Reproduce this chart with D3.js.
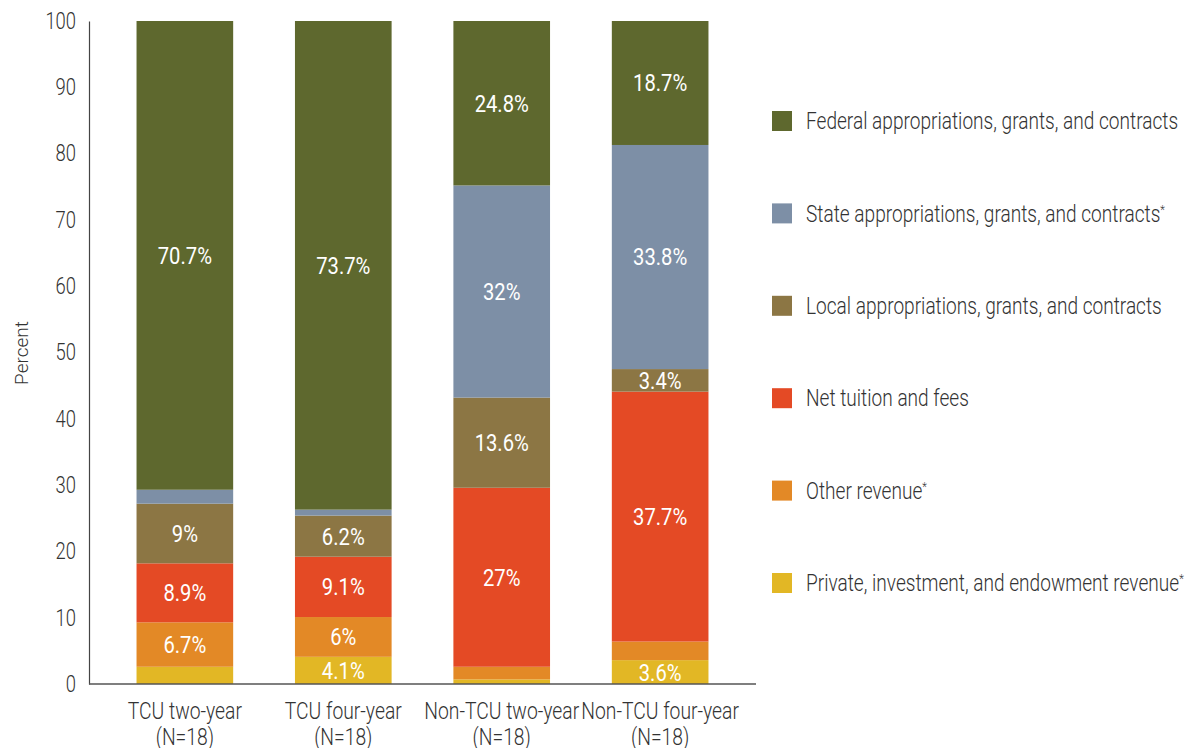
<!DOCTYPE html>
<html>
<head>
<meta charset="utf-8">
<script src="https://cdn.jsdelivr.net/npm/d3@7"></script>
<style>
  body { margin: 0; background: #fff; }
  svg { display: block; font-family: Roboto, "Open Sans", sans-serif; font-weight: 300; }
</style>
</head>
<body>
<svg id="chart"></svg>
<script>
const groups = ["TCU two-year", "TCU four-year", "Non-TCU two-year", "Non-TCU four-year"];
const groupN = ["(N=18)", "(N=18)", "(N=18)", "(N=18)"];
const seriesNames = [
  "Private, investment, and endowment revenue*",
  "Other revenue*",
  "Net tuition and fees",
  "Local appropriations, grants, and contracts",
  "State appropriations, grants, and contracts*",
  "Federal appropriations, grants, and contracts"
];
// values per group, bottom to top
const privateRev = [2.6, 4.1, 0.7, 3.6];
const otherRev = [6.7, 6.0, 1.9, 2.8];
const tuition = [8.9, 9.1, 27.0, 37.7];
const local = [9.0, 6.2, 13.6, 3.4];
const state = [2.1, 0.9, 32.0, 33.8];
const federal = [70.7, 73.7, 24.8, 18.7];
const yTicks = [0, 10, 20, 30, 40, 50, 60, 70, 80, 90, 100];
const colors = ["#e2b725", "#e38926", "#e44a25", "#8c7644", "#7d8fa6", "#5e682e"];

const width = 1199, height = 748;
const svg = d3.select("#chart").attr("width", width).attr("height", height);

// no condensed font installed, so squeeze text horizontally
function squeeze(sel, k) {
  sel.each(function() {
    const t = d3.select(this);
    const px = +t.attr("x") || 0, py = +t.attr("y") || 0;
    t.attr("transform", `translate(${px},${py}) scale(${k},1)`).attr("x", 0).attr("y", 0);
  });
}

const keys = ["private", "other", "tuition", "local", "state", "federal"];
const table = groups.map((g, i) => ({
  group: g,
  private: privateRev[i], other: otherRev[i], tuition: tuition[i],
  local: local[i], state: state[i], federal: federal[i]
}));
const stacked = d3.stack().keys(keys)(table);

const x = d3.scaleBand().domain(groups).range([89, 756]).paddingInner(0.39).paddingOuter(0.3);
const y = d3.scaleLinear().domain([0, 100]).range([684, 21]);

// bars
const layer = svg.append("g").selectAll("g")
  .data(stacked)
  .join("g")
  .attr("fill", (d, i) => colors[i]);

layer.selectAll("rect")
  .data(d => d)
  .join("rect")
  .attr("x", d => x(d.data.group))
  .attr("width", x.bandwidth())
  .attr("y", d => y(d[1]))
  .attr("height", d => y(d[0]) - y(d[1]));

// segment labels
layer.selectAll("text")
  .data(d => d.filter(s => s[1] - s[0] >= 3))
  .join("text")
  .attr("x", d => x(d.data.group) + x.bandwidth() / 2)
  .attr("y", d => y((d[0] + d[1]) / 2))
  .attr("dy", "0.36em")
  .attr("text-anchor", "middle")
  .attr("fill", "#fff")
  .style("font-size", "23.5px")
  .style("font-weight", 400)
  .text(d => d3.format("~g")(+(d[1] - d[0]).toFixed(1)) + "%")
  .call(squeeze, 0.86);

// y axis
const yAxis = svg.append("g")
  .attr("transform", "translate(89,0)")
  .call(d3.axisLeft(y).tickValues(yTicks).tickSize(0).tickPadding(13));
yAxis.select(".domain").attr("stroke", "#444").attr("stroke-width", 1.2);
yAxis.selectAll(".tick text")
  .attr("fill", "#333")
  .style("font-size", "23px")
  .style("font-family", "Roboto, sans-serif")
  .call(squeeze, 0.8);

svg.append("text")
  .attr("transform", "translate(28,353) rotate(-90)")
  .attr("text-anchor", "middle")
  .attr("fill", "#333")
  .style("font-size", "19px")
  .text("Percent");

// x axis
const xAxis = svg.append("g")
  .attr("transform", "translate(0,684)")
  .call(d3.axisBottom(x).tickSize(0).tickFormat(() => ""));
xAxis.select(".domain").attr("stroke", "#555").attr("stroke-width", 1.5).attr("d", "M89,0H756");

const xLabels = svg.append("g");
xLabels.selectAll("text.cat")
  .data(groups)
  .join("text")
  .attr("class", "cat")
  .attr("x", d => x(d) + x.bandwidth() / 2)
  .attr("y", 719)
  .attr("text-anchor", "middle")
  .attr("fill", "#333")
  .style("font-size", "23px")
  .text(d => d)
  .call(squeeze, 0.84);
xLabels.selectAll("text.n")
  .data(groups)
  .join("text")
  .attr("class", "n")
  .attr("x", d => x(d) + x.bandwidth() / 2)
  .attr("y", 745)
  .attr("text-anchor", "middle")
  .attr("fill", "#333")
  .style("font-size", "23px")
  .text((d, i) => groupN[i])
  .call(squeeze, 0.84);

// legend, top to bottom
const legendNames = seriesNames.slice().reverse();
const legendColors = colors.slice().reverse();
const legend = svg.append("g").selectAll("g")
  .data(legendNames)
  .join("g")
  .attr("transform", (d, i) => `translate(772,${121 + i * 92.4})`);
legend.append("rect")
  .attr("x", 0).attr("y", -10)
  .attr("width", 20).attr("height", 20)
  .attr("fill", (d, i) => legendColors[i]);
legend.append("text")
  .attr("x", 34)
  .attr("fill", "#333")
  .style("font-size", "23px")
  .each(function(d) {
    const t = d3.select(this);
    if (d.endsWith("*")) {
      t.append("tspan").attr("dy", "0.36em").text(d.slice(0, -1));
      t.append("tspan").attr("dy", -8).style("font-size", "13px").text("*");
    } else {
      t.append("tspan").attr("dy", "0.36em").text(d);
    }
  })
  .call(squeeze, 0.83);
</script>
</body>
</html>
